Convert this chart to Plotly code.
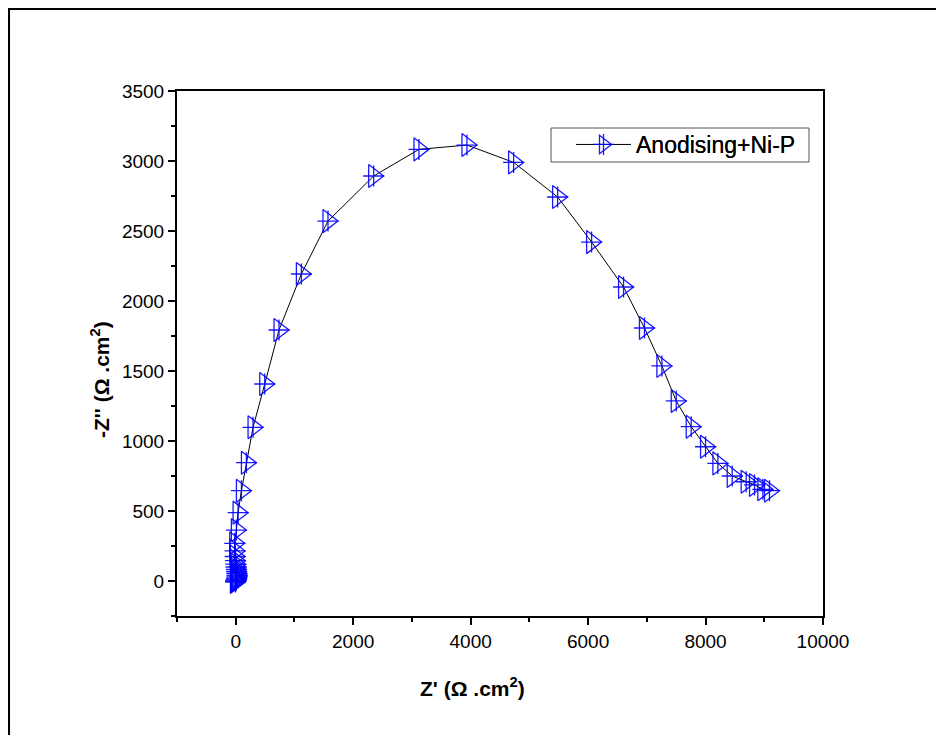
import plotly.graph_objects as go

# Z' and -Z'' (ohm.cm2), Anodising+Ni-P
z_real = [-5, 0, 5, 10, 15, 20, 22, 20, 15, 10, 5, 0, -5, -10, -12,
          -17, 11, 40, 97, 182, 295, 494, 737, 1118, 1571, 2349, 3120,
          3937, 4732, 5481, 6060, 6604, 6960, 7257, 7501, 7756, 8000,
          8210, 8454, 8692, 8834, 8976, 9089]
z_imag = [-7, 0, 6, 13, 21, 30, 40, 52, 66, 82, 100, 120, 145, 175, 215,
          269, 364, 488, 645, 845, 1098, 1407, 1793, 2193, 2571, 2893, 3083,
          3114, 2990, 2743, 2421, 2100, 1807, 1536, 1286, 1102, 959,
          840, 750, 709, 686, 655, 645]

series_name = "Anodising+Ni-P"
x_ticks = [0, 2000, 4000, 6000, 8000, 10000]
x_labels = ["0", "2000", "4000", "6000", "8000", "10000"]
y_ticks = [0, 500, 1000, 1500, 2000, 2500, 3000, 3500]

font = "Arial, Liberation Sans, sans-serif"
blue = "rgba(0,0,255,0.9)"

# page has an 8px body margin, so pixel positions below are page minus 8
L, R, T, B = 169, 815, 83, 608
W, H = 944, 735


def px(x):
    return (x - L) / (R - L)


def py(y):
    return (B - y) / (B - T)


fig = go.Figure()

fig.add_trace(go.Scatter(
    x=z_real, y=z_imag, mode="lines+markers", name=series_name,
    line=dict(color="black", width=1),
    marker=dict(symbol="triangle-right-open", size=20, color=blue,
                line=dict(color=blue, width=1.3)),
    legend="legend",
))
fig.add_trace(go.Scatter(
    x=z_real, y=z_imag, mode="markers", name=series_name,
    marker=dict(symbol="cross-thin-open", size=15, color=blue,
                line=dict(color=blue, width=1.3)),
    legend="legend2",
))

axis_common = dict(showline=True, linewidth=2, linecolor="black", mirror=True,
                   showgrid=False, zeroline=False, ticks="outside", ticklen=7,
                   tickwidth=1.5, tickcolor="black",
                   tickfont=dict(family=font, size=19, color="black"))

fig.update_xaxes(range=[-1000, 10000], tickvals=x_ticks, ticktext=x_labels,
                 minor=dict(dtick=1000, tick0=0, ticks="outside", ticklen=4,
                            tickwidth=1.5, tickcolor="black"),
                 **axis_common)
fig.update_yaxes(range=[-250, 3500], tickvals=y_ticks,
                 minor=dict(dtick=250, tick0=0, ticks="outside", ticklen=4,
                            tickwidth=1.5, tickcolor="black"),
                 **axis_common)

# inward ticks on top and right
fig.update_layout(
    xaxis2=dict(overlaying="x", side="top", range=[-1000, 10000], tickvals=x_ticks,
                ticks="inside", ticklen=7, tickwidth=1.5, tickcolor="black",
                showticklabels=False, showgrid=False, zeroline=False, showline=False,
                minor=dict(dtick=1000, tick0=0, ticks="inside", ticklen=4,
                           tickwidth=1.5, tickcolor="black")),
    yaxis2=dict(overlaying="y", side="right", range=[-250, 3500], tickvals=y_ticks,
                ticks="inside", ticklen=7, tickwidth=1.5, tickcolor="black",
                showticklabels=False, showgrid=False, zeroline=False, showline=False,
                minor=dict(dtick=250, tick0=0, ticks="inside", ticklen=4,
                           tickwidth=1.5, tickcolor="black")),
)

legend_pos = dict(x=px(562), y=py(114), xanchor="left", yanchor="top",
                  font=dict(family=font, size=23, color="black"), itemwidth=55,
                  bordercolor="rgba(0,0,0,0)", borderwidth=1, bgcolor="rgba(0,0,0,0)")
fig.update_layout(
    width=W, height=H,
    margin=dict(l=L, r=W - R, t=T, b=H - B),
    plot_bgcolor="white", paper_bgcolor="white",
    showlegend=True,
    legend=legend_pos,
    legend2=legend_pos,
    annotations=[
        dict(text="Z' (Ω .cm<sup>2</sup>)", x=px(464), y=py(694),
             xref="paper", yref="paper", showarrow=False,
             font=dict(family=font, size=21, color="black", weight="bold")),
        dict(text="-Z'' (Ω .cm<sup>2</sup>)", x=px(77), y=py(372),
             xref="paper", yref="paper", showarrow=False, textangle=-90,
             font=dict(family=font, size=21, color="black", weight="bold")),
    ],
    shapes=[
        dict(type="rect", xref="paper", yref="paper",
             x0=px(0.8), x1=px(960), y0=py(760), y1=py(0.8),
             line=dict(color="black", width=2.5), layer="below"),
        dict(type="rect", xref="paper", yref="paper",
             x0=px(543), x1=px(801), y0=py(154), y1=py(120),
             line=dict(color="#555555", width=1), layer="below"),
    ],
)

fig.write_html("out.html")
